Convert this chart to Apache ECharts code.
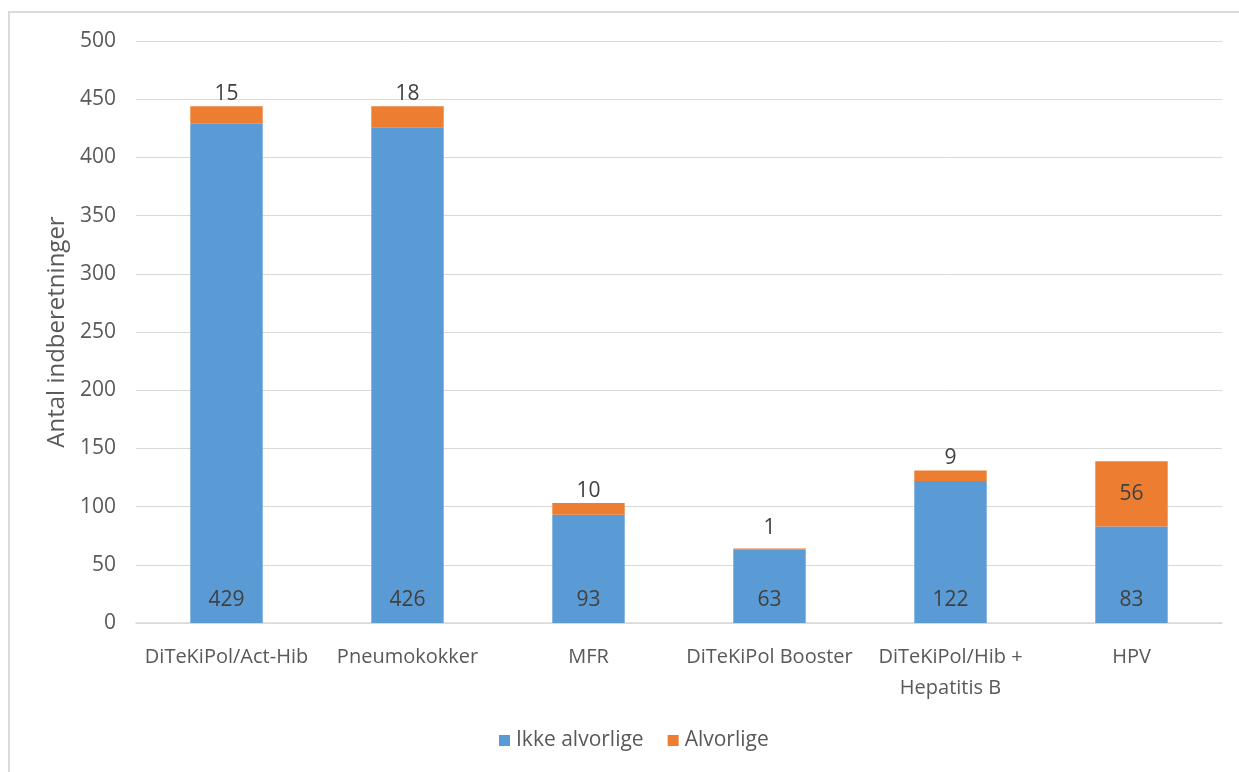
<!DOCTYPE html>
<html>
<head>
<meta charset="utf-8">
<script src="https://cdn.jsdelivr.net/npm/echarts@6/dist/echarts.min.js"></script>
<style>
html,body{margin:0;padding:0;background:#fff;}
#frame{position:absolute;left:8px;top:11px;width:1240px;height:770px;border:2px solid #d9d9d9;box-sizing:border-box;}
#c{position:absolute;left:0;top:0;width:1239px;height:772px;}
</style>
</head>
<body>
<div id="frame"></div>
<div id="c"></div>
<script>
const categories = ["DiTeKiPol/Act-Hib", "Pneumokokker", "MFR", "DiTeKiPol Booster", "DiTeKiPol/Hib +\nHepatitis B", "HPV"];
const ikkeAlvorlige = [429, 426, 93, 63, 122, 83];
const alvorlige = [15, 18, 10, 1, 9, 56];
const seriesNames = ["Ikke alvorlige", "Alvorlige"];
const yAxisName = "Antal indberetninger";

const textColor = "#595959";
const font = "Open Sans";

const orangeData = alvorlige.map((v) => {
  const big = v > 30;
  return {
    value: v,
    label: big ? { position: "inside" } : { position: "top", distance: v < 5 ? 10 : 2 }
  };
});

const chart = echarts.init(document.getElementById("c"), null, { renderer: "canvas" });
chart.setOption({
  animation: false,
  textStyle: { fontFamily: font, color: textColor },
  grid: { left: 136, right: 17, top: 41, bottom: 149, containLabel: false },
  legend: {
    bottom: 16,
    left: 494,
    itemWidth: 11,
    itemHeight: 11,
    itemGap: 24,
    icon: "rect",
    textStyle: { fontFamily: font, fontSize: 21, color: textColor, padding: [0, 0, 0, 1] },
    data: seriesNames
  },
  xAxis: {
    type: "category",
    data: categories,
    axisLine: { show: true, lineStyle: { color: "#d9d9d9", width: 1.5 } },
    axisTick: { show: false },
    axisLabel: { fontFamily: font, fontSize: 20, color: textColor, margin: 19, lineHeight: 31, interval: 0 }
  },
  yAxis: {
    type: "value",
    min: 0,
    max: 500,
    interval: 50,
    name: yAxisName,
    nameLocation: "middle",
    nameGap: 65,
    nameTextStyle: { fontFamily: font, fontSize: 24, color: textColor },
    axisLine: { show: false },
    axisTick: { show: false },
    axisLabel: { fontFamily: font, fontSize: 21, color: textColor, margin: 20 },
    splitLine: { lineStyle: { color: "#d9d9d9", width: 1 } }
  },
  series: [
    {
      name: seriesNames[0],
      type: "bar",
      stack: "total",
      data: ikkeAlvorlige,
      barWidth: "40%",
      itemStyle: { color: "#5B9BD5" },
      label: { show: true, position: "insideBottom", distance: 12, fontFamily: font, fontSize: 21, color: "#404040" }
    },
    {
      name: seriesNames[1],
      type: "bar",
      stack: "total",
      data: orangeData,
      barWidth: "40%",
      itemStyle: { color: "#ED7D31" },
      label: { show: true, fontFamily: font, fontSize: 21, color: "#404040" }
    }
  ]
});
</script>
</body>
</html>
